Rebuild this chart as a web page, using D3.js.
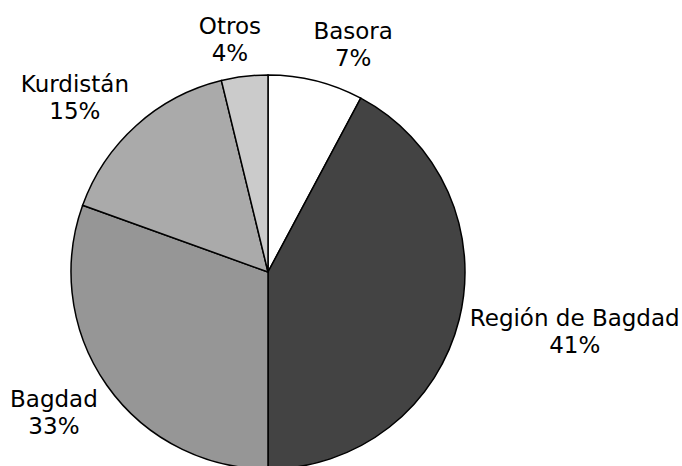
<!DOCTYPE html>
<html>
<head>
	<meta charset="utf-8">
	<title>Pie</title>
	<style type="text/css">
		body {
			margin: 0;
			background: #fff;
			font-family: "DejaVu Sans", Verdana, sans-serif;
		}

		.slice {
			stroke: #000;
			stroke-width: 1.5;
		}

		.label {
			font-size: 23px;
			fill: #000;
		}
	</style>
</head>
<body>
	<div id="chart"></div>
	<script src="https://d3js.org/d3.v7.min.js"></script>
	<script type="text/javascript">
		// slice order runs clockwise from 12 o'clock
		var categories = ["Basora", "Región de Bagdad", "Bagdad", "Kurdistán", "Otros"];
		var values = [7.8, 42.2, 30.5, 15.7, 3.8];
		var pctLabels = ["7%", "41%", "33%", "15%", "4%"];
		var colors = ["#ffffff", "#434343", "#969696", "#aaaaaa", "#cbcbcb"];

		var width = 682,
			height = 466,
			cx = 268,
			cy = 272,
			radius = 197;

		var svg = d3.select('#chart')
			.append('svg')
			.attr('width', width)
			.attr('height', height);

		var pie = d3.pie().sort(null).value(function(d) { return d; }),
			arc = d3.arc().innerRadius(0).outerRadius(radius),
			arcs = pie(values);

		var g = svg.append('g')
			.attr('transform', 'translate(' + cx + ',' + cy + ')');

		g.selectAll('path')
			.data(arcs)
			.enter()
			.append('path')
			.attr('class', 'slice')
			.attr('d', arc)
			.style('fill', function(d, i) { return colors[i]; });

		// labels: the ray through the slice middle touches the label box
		// at about radius + 11, the box slides along that edge with the angle
		var clamp = function(v) { return Math.max(-1, Math.min(1, v)); };

		g.selectAll('g.lbl')
			.data(arcs)
			.enter()
			.append('g')
			.attr('class', 'lbl')
			.each(function(d, i) {
				var sel = d3.select(this);
				var t = sel.append('text')
					.attr('class', 'label')
					.attr('text-anchor', 'middle');
				t.append('tspan').attr('x', 0).attr('y', 0).text(categories[i]);
				t.append('tspan').attr('x', 0).attr('y', 27).text(pctLabels[i]);

				var bb = t.node().getBBox(),
					mid = (d.startAngle + d.endAngle) / 2,
					s = Math.sin(mid),
					c = Math.cos(mid),
					r = radius + 11,
					px = s * r + bb.width / 2 * clamp(3.6 * s),
					py = -c * r - bb.height / 2 * clamp(c > 0 ? c : 1.4 * c);

				// move bbox centre to (px, py)
				sel.attr('transform', 'translate(' + (px - (bb.x + bb.width / 2)) + ',' + (py - (bb.y + bb.height / 2)) + ')');
			});
	</script>
</body>
</html>
